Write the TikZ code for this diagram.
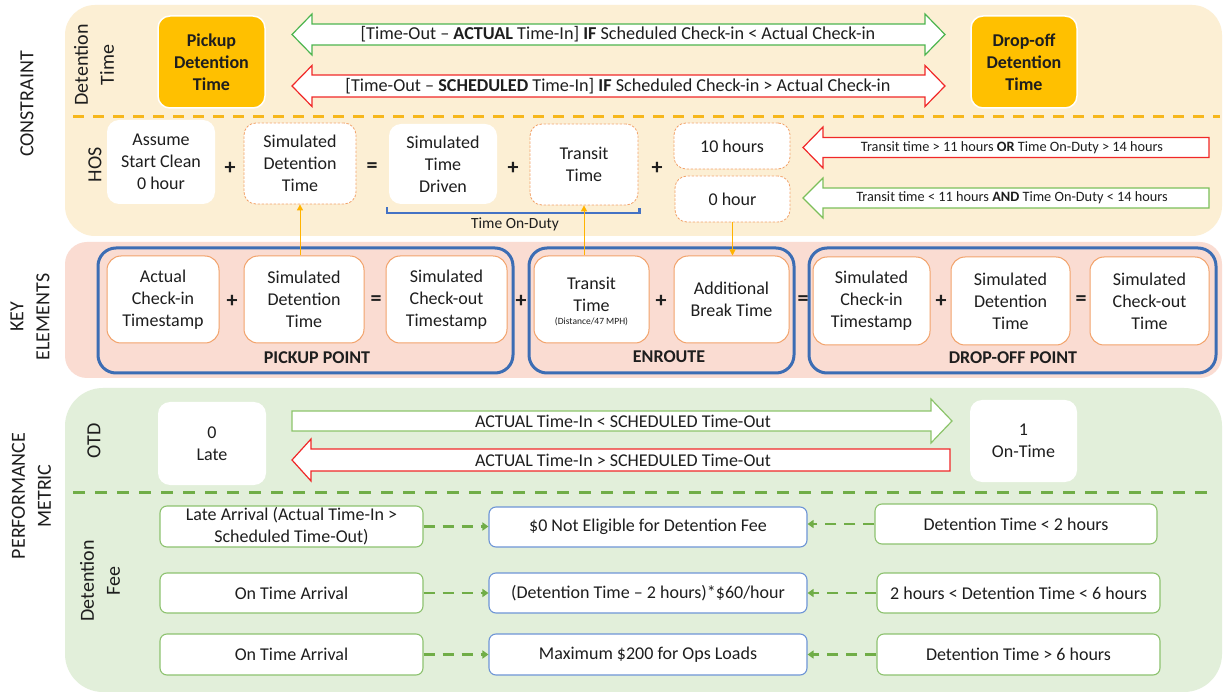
\documentclass[tikz,border=0pt]{standalone}
\usepackage{fontspec}
\setmainfont{Carlito}
\usetikzlibrary{arrows.meta,calc}
\definecolor{bandY}{HTML}{FCEFD4}
\definecolor{bandR}{HTML}{FADCD2}
\definecolor{bandG}{HTML}{E2EFDA}
\definecolor{goldc}{HTML}{FFC000}
\definecolor{divY}{HTML}{F6B71C}
\definecolor{divG}{HTML}{70AD47}
\definecolor{blueG}{HTML}{3C6DB4}
\definecolor{orB}{HTML}{F2A26A}
\definecolor{orD}{HTML}{F2A26A}
\definecolor{orC}{HTML}{FFB300}
\definecolor{cgreen}{HTML}{4DB54F}
\definecolor{hgreen}{HTML}{7CBF5A}
\definecolor{ogreen}{HTML}{8CC46A}
\definecolor{redA}{HTML}{F02828}
\definecolor{feeG}{HTML}{8DC26F}
\definecolor{feeB}{HTML}{6E95D6}
\definecolor{brk}{HTML}{4472C4}
\definecolor{txtc}{HTML}{1E1E1E}
\begin{document}
\begin{tikzpicture}[x=1pt,y=-1pt,
  txt/.style={font=\fontsize{18}{22}\selectfont, align=center, inner sep=0pt, text=txtc},
  obox/.style={txt, font=\fontsize{18}{22}\selectfont\bfseries, fill=goldc, draw=white, line width=1.5pt, rounded corners=12pt},
  wbox/.style={txt, fill=white, rounded corners=12pt},
  dbox/.style={txt, fill=white, draw=orD, line width=0.8pt, dash pattern=on 2.5pt off 1.5pt, rounded corners=12pt},
  kbox/.style={txt, fill=white, draw=orB, line width=1pt, rounded corners=14pt},
  grp/.style={draw=blueG, line width=3pt, rounded corners=18pt, inner sep=0pt},
  glabel/.style={txt, font=\fontsize{18}{22}\selectfont\bfseries},
  op/.style={txt, font=\fontsize{22}{22}\selectfont\bfseries},
  sidelab/.style={txt, font=\fontsize{20}{26}\selectfont, rotate=90},
  fgbox/.style={txt, fill=white, draw=feeG, line width=1.1pt, rounded corners=7pt},
  fbbox/.style={txt, fill=white, draw=feeB, line width=1.1pt, rounded corners=7pt},
  feearr/.style={draw=divG, line width=2.5pt, dash pattern=on 11pt off 8pt, -{Triangle[length=6pt,width=8pt]}},
  conn/.style={draw=orC, line width=1pt, -{Triangle[length=6pt,width=6pt]}},
  blk/.style={fill=white, line width=1.2pt, line join=miter},
  small/.style={txt, font=\fontsize{14.3}{16}\selectfont}
]
\useasboundingbox (0,0) rectangle (1224,692);
\fill[white] (0,0) rectangle (1224,692);

% bands
\fill[bandY, rounded corners=30pt] (65,5) rectangle (1222,236);
\fill[bandR, rounded corners=22pt] (65,242) rectangle (1222,378);
\fill[bandG, rounded corners=38pt] (65,388) rectangle (1222,692);

% dividers
\draw[divY, line width=3pt, dash pattern=on 11pt off 9pt] (73,117) -- (1220,117);
\draw[divG, line width=3pt, dash pattern=on 12pt off 10pt] (73,492) -- (1210,492);

% side labels
\node[sidelab] (lc) at (27,104) {CONSTRAINT};
\node[sidelab] (lk) at (30,317) {KEY\\ELEMENTS};
\node[sidelab] (lp) at (31.5,496) {PERFORMANCE\\METRIC};
\node[sidelab] (ldt) at (94,65) {Detention\\Time};
\node[sidelab] (lhos) at (95,165) {HOS};
\node[sidelab] (lotd) at (94,441) {OTD};
\node[sidelab] (ldf) at (100,581) {Detention\\Fee};

% ---------- constraint: detention time ----------
\node[obox, minimum width=107, minimum height=92] (pdt) at (211.5,62) {Pickup\\Detention\\Time};
\node[obox, minimum width=106, minimum height=92] (ddt) at (1024,62) {Drop-off\\Detention\\Time};

\draw[blk, draw=cgreen] (292,34.5) -- (312,14) -- (312,24) -- (925,24) -- (925,14) -- (945,34.5) -- (925,55) -- (925,45) -- (312,45) -- (312,55) -- cycle;
\node[txt, font=\fontsize{18.2}{22}\selectfont] (tc1) at (618,34.5) {[Time-Out – \textbf{ACTUAL} Time-In] \textbf{IF} Scheduled Check-in < Actual Check-in};
\draw[blk, draw=redA] (292,86) -- (312,65.5) -- (312,75) -- (925,75) -- (925,65.5) -- (945,86) -- (925,106.5) -- (925,97) -- (312,97) -- (312,106.5) -- cycle;
\node[txt, font=\fontsize{18.2}{22}\selectfont] (tc2) at (618,86) {[Time-Out – \textbf{SCHEDULED} Time-In] \textbf{IF} Scheduled Check-in > Actual Check-in};

% ---------- constraint: HOS ----------
\node[wbox, minimum width=108, minimum height=84] (hos1) at (161,162) {Assume\\Start Clean\\0 hour};
\node[op] (hp1) at (230,168) {+};
\node[dbox, minimum width=112, minimum height=81] (hos2) at (300,163.5) {Simulated\\Detention\\Time};
\node[op] (he1) at (372,168) {=};
\node[wbox, minimum width=108, minimum height=80] (hos3) at (443,164) {Simulated\\Time\\Driven};
\node[op] (hp2) at (513,168) {+};
\node[dbox, minimum width=108, minimum height=81] (hos4) at (584,164.5) {Transit\\Time};
\node[op] (hp3) at (657,168) {+};
\node[dbox, minimum width=116, minimum height=46] (hos5) at (732,146) {10 hours};
\node[dbox, minimum width=115, minimum height=46] (hos6) at (732.5,199) {0 hour};

\draw[brk, line width=2.5pt] ([xshift=-2pt,yshift=-3pt]hos3.south west) -- ++(0,6) -| ([xshift=1pt,yshift=-3pt]hos4.south east);
\node[txt, font=\fontsize{15.5}{18}\selectfont] (tod) at (515,224) {Time On-Duty};

\draw[blk, draw=redA] (803,147.5) -- (823,127) -- (823,137.5) -- (1209,137.5) -- (1209,157.5) -- (823,157.5) -- (823,168) -- cycle;
\node[small] (th1) at (1012,147.5) {Transit time > 11 hours \textbf{OR} Time On-Duty > 14 hours};
\draw[blk, draw=hgreen] (803,198) -- (823,178) -- (823,188) -- (1209,188) -- (1209,208) -- (823,208) -- (823,218) -- cycle;
\node[small] (th2) at (1012,198) {Transit time < 11 hours \textbf{AND} Time On-Duty < 14 hours};

% ---------- key elements ----------
\node[grp, minimum width=415, minimum height=125] (grpP) at (305.5,310.5) {};
\node[grp, minimum width=265, minimum height=125] (grpE) at (661.5,310.5) {};
\node[grp, minimum width=407, minimum height=125] (grpD) at (1012.5,310.5) {};

\node[kbox, minimum width=112, minimum height=87] (k1) at (163,299.5) {Actual\\Check-in\\Timestamp};
\node[op] (kp1) at (232,301) {+};
\node[kbox, minimum width=120, minimum height=87] (k2) at (304,299.5) {Simulated\\Detention\\Time};
\node[op] (ke1) at (376,301) {=};
\node[kbox, minimum width=121, minimum height=87] (k3) at (446.5,299.5) {Simulated\\Check-out\\Timestamp};
\node[op] (kp2) at (521,301) {+};
\node[kbox, minimum width=115, minimum height=87] (k4) at (591.5,299.5) {};
\node[txt] (k4t) at (591.5,294) {Transit\\Time};
\node[txt, font=\fontsize{9.5}{11}\selectfont] (k4s) at (591.5,322) {(Distance/47 MPH)};
\node[op] (kp3) at (661,301) {+};
\node[kbox, minimum width=115, minimum height=87] (k5) at (731.5,299.5) {Additional\\Break Time};
\node[op] (ke2) at (803,301) {=};
\node[kbox, minimum width=117, minimum height=88] (k6) at (871.5,301) {Simulated\\Check-in\\Timestamp};
\node[op] (kp4) at (941,301) {+};
\node[kbox, minimum width=119, minimum height=88] (k7) at (1010.5,301) {Simulated\\Detention\\Time};
\node[op] (ke3) at (1081,301) {=};
\node[kbox, minimum width=119, minimum height=88] (k8) at (1149.5,301) {Simulated\\Check-out\\Time};

\node[glabel] (lpp) at (317,358) {PICKUP POINT};
\node[glabel] (len) at (669,357) {ENROUTE};
\node[glabel] (ldp) at (1013,358) {DROP-OFF POINT};

% orange connectors
\draw[conn] (hos2.south |- k2.north) -- (hos2.south);
\draw[conn] (hos4.south |- k4.north) -- (hos4.south);
\draw[conn] (hos6.south) -- (hos6.south |- k5.north);

% ---------- performance metric: OTD ----------
\node[wbox, minimum width=108, minimum height=83] (otd0) at (212,443.5) {0\\Late};
\node[wbox, minimum width=107, minimum height=82] (otd1) at (1023.5,441) {1\\On-Time};

\draw[blk, draw=ogreen] (292,411) -- (931,411) -- (931,399) -- (952,421) -- (931,443) -- (931,431) -- (292,431) -- cycle;
\node[txt] (to1) at (623,421) {ACTUAL Time-In < SCHEDULED Time-Out};
\draw[blk, draw=redA] (292,460) -- (311,439) -- (311,449) -- (950,449) -- (950,471) -- (311,471) -- (311,481) -- cycle;
\node[txt] (to2) at (623,460) {ACTUAL Time-In > SCHEDULED Time-Out};

% ---------- performance metric: detention fee ----------
\node[fgbox, minimum width=263, minimum height=41] (fl1) at (291.5,526.5) {Late Arrival (Actual Time-In >\\Scheduled Time-Out)};
\node[fgbox, minimum width=263, minimum height=40] (fl2) at (291.5,593) {On Time Arrival};
\node[fgbox, minimum width=263, minimum height=41] (fl3) at (291.5,654.5) {On Time Arrival};

\node[fbbox, minimum width=318, minimum height=40] (fm1) at (648,527) {\$0 Not Eligible for Detention Fee};
\node[fbbox, minimum width=318, minimum height=40] (fm2) at (648,593) {(Detention Time – 2 hours)*\$60/hour};
\node[fbbox, minimum width=318, minimum height=41] (fm3) at (648,654.5) {Maximum \$200 for Ops Loads};

\node[fgbox, minimum width=282, minimum height=40] (fr1) at (1016,524) {Detention Time < 2 hours};
\node[fgbox, minimum width=283, minimum height=40] (fr2) at (1018.5,593) {2 hours < Detention Time < 6 hours};
\node[fgbox, minimum width=283, minimum height=41] (fr3) at (1018.5,654.5) {Detention Time > 6 hours};

\draw[feearr] (fl1.east) -- (fl1.east -| fm1.west);
\draw[feearr] (fl2.east) -- (fl2.east -| fm2.west);
\draw[feearr] (fl3.east) -- (fl3.east -| fm3.west);
\draw[feearr] (fr1.west) -- (fr1.west -| fm1.east);
\draw[feearr] (fr2.west) -- (fr2.west -| fm2.east);
\draw[feearr] (fr3.west) -- (fr3.west -| fm3.east);
\end{tikzpicture}
\end{document}
